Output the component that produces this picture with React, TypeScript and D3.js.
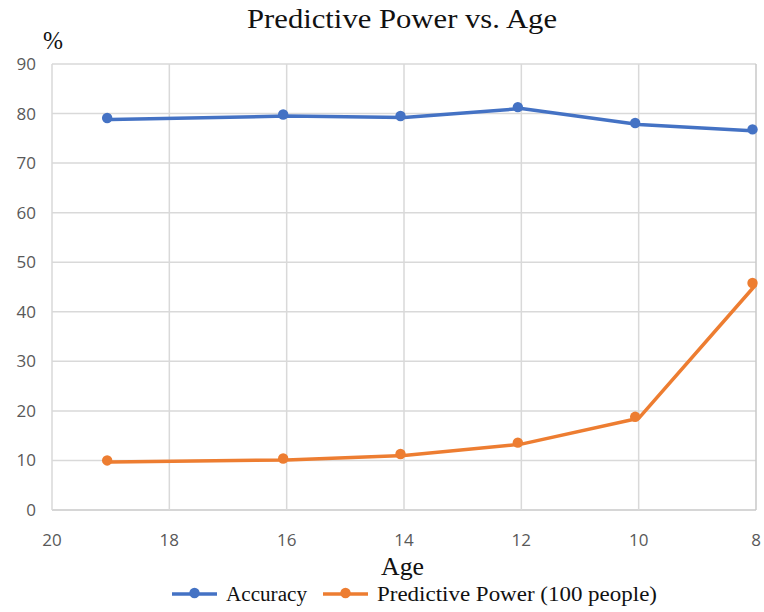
import React from "react";
import * as d3 from "d3";

const ages = [19, 16, 14, 12, 10, 8];
const accuracy = [78.8, 79.5, 79.2, 81.0, 77.8, 76.5];
const predictivePower = [9.7, 10.1, 11.0, 13.3, 18.5, 45.5];
const xTicks = [20, 18, 16, 14, 12, 10, 8];
const yTicks = [0, 10, 20, 30, 40, 50, 60, 70, 80, 90];
const seriesNames = ["Accuracy", "Predictive Power (100 people)"];
const colors = ["#4472C4", "#ED7D31"];

const W = 764, H = 612;
const M = { left: 52, right: 8, top: 64, bottom: 102 };

export default function App() {
  const x = d3.scaleLinear().domain([20, 8]).range([M.left, W - M.right]);
  const y = d3.scaleLinear().domain([0, 90]).range([H - M.bottom, M.top]);
  const line = d3.line<number>().x((_, i) => x(ages[i])).y((d) => y(d));
  const series = [accuracy, predictivePower];
  const tickFont = "'Open Sans', 'Noto Sans', sans-serif";
  const serif = "'Liberation Serif', 'DejaVu Serif', serif";
  const legendX = [172, 323];
  const legendTextLen = [81, 280];
  return (
    <svg width={W} height={H} style={{ position: "absolute", left: 0, top: 0, background: "#fff" }}>
      <rect width={W} height={H} fill="#fff" />
      {yTicks.map((t) => (
        <g key={"y" + t}>
          <line x1={x(20)} x2={x(8)} y1={y(t)} y2={y(t)} stroke={t === 0 ? "#c8c8c8" : "#d9d9d9"} strokeWidth={1.5} />
          <text x={36} y={y(t) + 6} textAnchor="end" fontFamily={tickFont} fontSize={17} fill="#595959">{t}</text>
        </g>
      ))}
      {xTicks.map((t) => (
        <g key={"x" + t}>
          <line x1={x(t)} x2={x(t)} y1={y(0)} y2={y(90)} stroke={t === 8 ? "#c8c8c8" : "#d9d9d9"} strokeWidth={1.5} />
          <text x={x(t)} y={546} textAnchor="middle" fontFamily={tickFont} fontSize={17} fill="#595959">{t}</text>
        </g>
      ))}
      {series.map((s, si) => (
        <g key={"s" + si}>
          <path d={line(s) || ""} fill="none" stroke={colors[si]} strokeWidth={3.5} strokeLinejoin="round" />
          {s.map((v, i) => (
            <circle key={i} cx={x(ages[i]) - 3.5} cy={y(v) - 1.5} r={5.2} fill={colors[si]} />
          ))}
        </g>
      ))}
      <text x={247} y={28} fontFamily={serif} fontSize={28} fill="#111" textLength={310} lengthAdjust="spacingAndGlyphs">Predictive Power vs. Age</text>
      <text x={43} y={49} fontFamily={serif} fontSize={25} fill="#111" textLength={20} lengthAdjust="spacingAndGlyphs">%</text>
      <text x={381} y={575} fontFamily={serif} fontSize={26} fill="#111" textLength={43} lengthAdjust="spacingAndGlyphs">Age</text>
      {seriesNames.map((n, i) => {
        const lx = legendX[i];
        return (
          <g key={"l" + i}>
            <line x1={lx} x2={lx + 45} y1={594} y2={594} stroke={colors[i]} strokeWidth={3.5} />
            <circle cx={lx + 22.5} cy={593} r={5.2} fill={colors[i]} />
            <text x={lx + 54} y={601} fontFamily={serif} fontSize={20} fill="#111" textLength={legendTextLen[i]} lengthAdjust="spacingAndGlyphs">{n}</text>
          </g>
        );
      })}
    </svg>
  );
}
